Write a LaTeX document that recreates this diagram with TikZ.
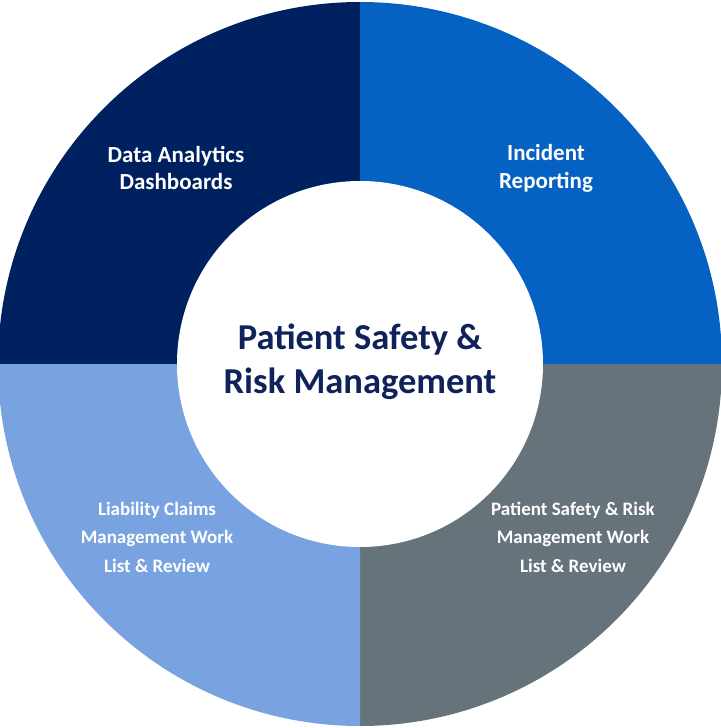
\documentclass[tikz,border=0pt]{standalone}
\usepackage{fontspec}
\setmainfont{Carlito}
\usetikzlibrary{positioning}
\definecolor{navy}{RGB}{0,33,96}
\definecolor{brightblue}{RGB}{5,97,194}
\definecolor{lightblue}{RGB}{121,163,224}
\definecolor{slategray}{RGB}{102,115,123}
\definecolor{hubtext}{RGB}{16,34,90}

\begin{document}
\begin{tikzpicture}[x=1pt, y=1pt,
    quadlabel/.style={text=white, align=center, font=\fontsize{19}{28.5}\selectfont\bfseries},
    toplabel/.style={quadlabel, font=\fontsize{23}{28}\selectfont\bfseries},
    hublabel/.style={text=hubtext, align=center, font=\fontsize{36.5}{44}\selectfont\bfseries}]
    \useasboundingbox (-360,-364) rectangle (360,364);
    % Outer ring: four quadrants
    \fill[navy] (0,0) -- (-362,0) arc (180:90:362) -- cycle;
    \fill[brightblue] (0,0) -- (0,362) arc (90:0:362) -- cycle;
    \fill[slategray] (0,0) -- (362,0) arc (0:-90:362) -- cycle;
    \fill[lightblue] (0,0) -- (0,-362) arc (270:180:362) -- cycle;

    % Inner white hub
    \fill[white] (0,0) circle (183);
    \node[hublabel] (hub) at (0,2) {Patient Safety \&\\Risk Management};

    % Quadrant labels
    \node[toplabel] (dashboards) at (-184,196) {Data Analytics\\Dashboards};
    \node[toplabel] (incidents) at (186,196) {Incident\\Reporting};
    \node[quadlabel] (claims) at (-203,-173) {Liability Claims\\Management Work\\List \& Review};
    \node[quadlabel] (psrm) at (213,-173) {Patient Safety \& Risk\\Management Work\\List \& Review};
\end{tikzpicture}
\end{document}
